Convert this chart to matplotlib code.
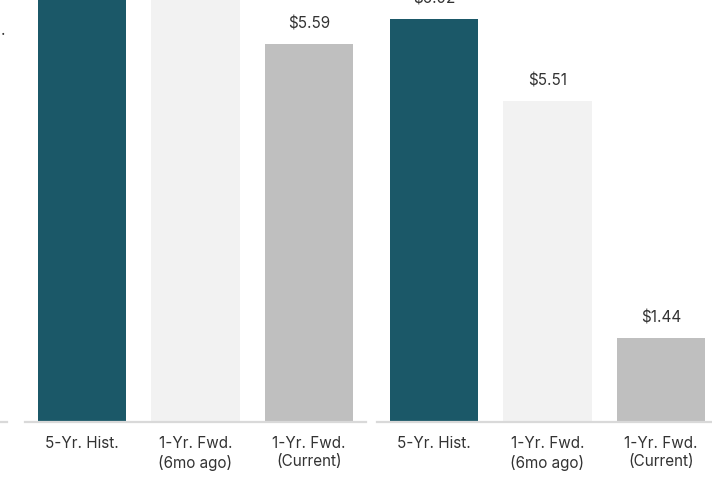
import numpy as np
import matplotlib
matplotlib.use("Agg")
import matplotlib.pyplot as plt

# Data (tallest two left bars run off the top of the view)
categories = ["5-Yr. Hist.", "1-Yr. Fwd.\n(6mo ago)", "1-Yr. Fwd.\n(Current)"]
left_values = [7.40, 6.98, 5.59]
right_values = [6.92, 5.51, 1.44]
bar_colors = ["#1b5868", "#f2f2f2", "#bfbfbf"]

plt.rcParams['font.family'] = ['Inter', 'DejaVu Sans']
text_color = "#333333"

W, H = 712, 494
fig = plt.figure(figsize=(W / 100, H / 100), dpi=100)

bottom = (H - 422) / H
height = 422 / H
width = 341 / W


def style_axis(ax):
    for side in ["top", "left", "right"]:
        ax.spines[side].set_visible(False)
    ax.spines["bottom"].set_color("#d9d9d9")
    ax.spines["bottom"].set_linewidth(1.6)
    ax.set_yticks([])
    ax.tick_params(axis="x", length=0, pad=10, labelsize=11, colors=text_color)


def draw_group(ax, values, ymax):
    x = np.arange(len(values))
    ax.bar(x, values, width=0.775, color=bar_colors)
    for xi, v in zip(x, values):
        ax.annotate(f"${v:.2f}", (xi, v), xytext=(0, 9), textcoords="offset points",
                    ha="center", va="bottom", fontsize=11, color=text_color,
                    annotation_clip=False)
    ax.set_xlim(-0.5, len(values) - 0.5)
    ax.set_ylim(0, ymax)
    ax.set_xticks(x)
    ax.set_xticklabels(categories, linespacing=1.3)
    style_axis(ax)


# stub of the panel to the left, cut off by the crop
ax0 = fig.add_axes([7 / W - width, bottom, width, height])
ax0.set_xticks([])
style_axis(ax0)

ax1 = fig.add_axes([25 / W, bottom, width, height])
draw_group(ax1, left_values, 6.24)

ax2 = fig.add_axes([377 / W, bottom, width, height])
draw_group(ax2, right_values, 7.246)

fig.text(3 / W, 1 - 35 / H, ".", fontsize=11, color=text_color, ha="center", va="baseline")

fig.savefig("out.png", dpi=100)
